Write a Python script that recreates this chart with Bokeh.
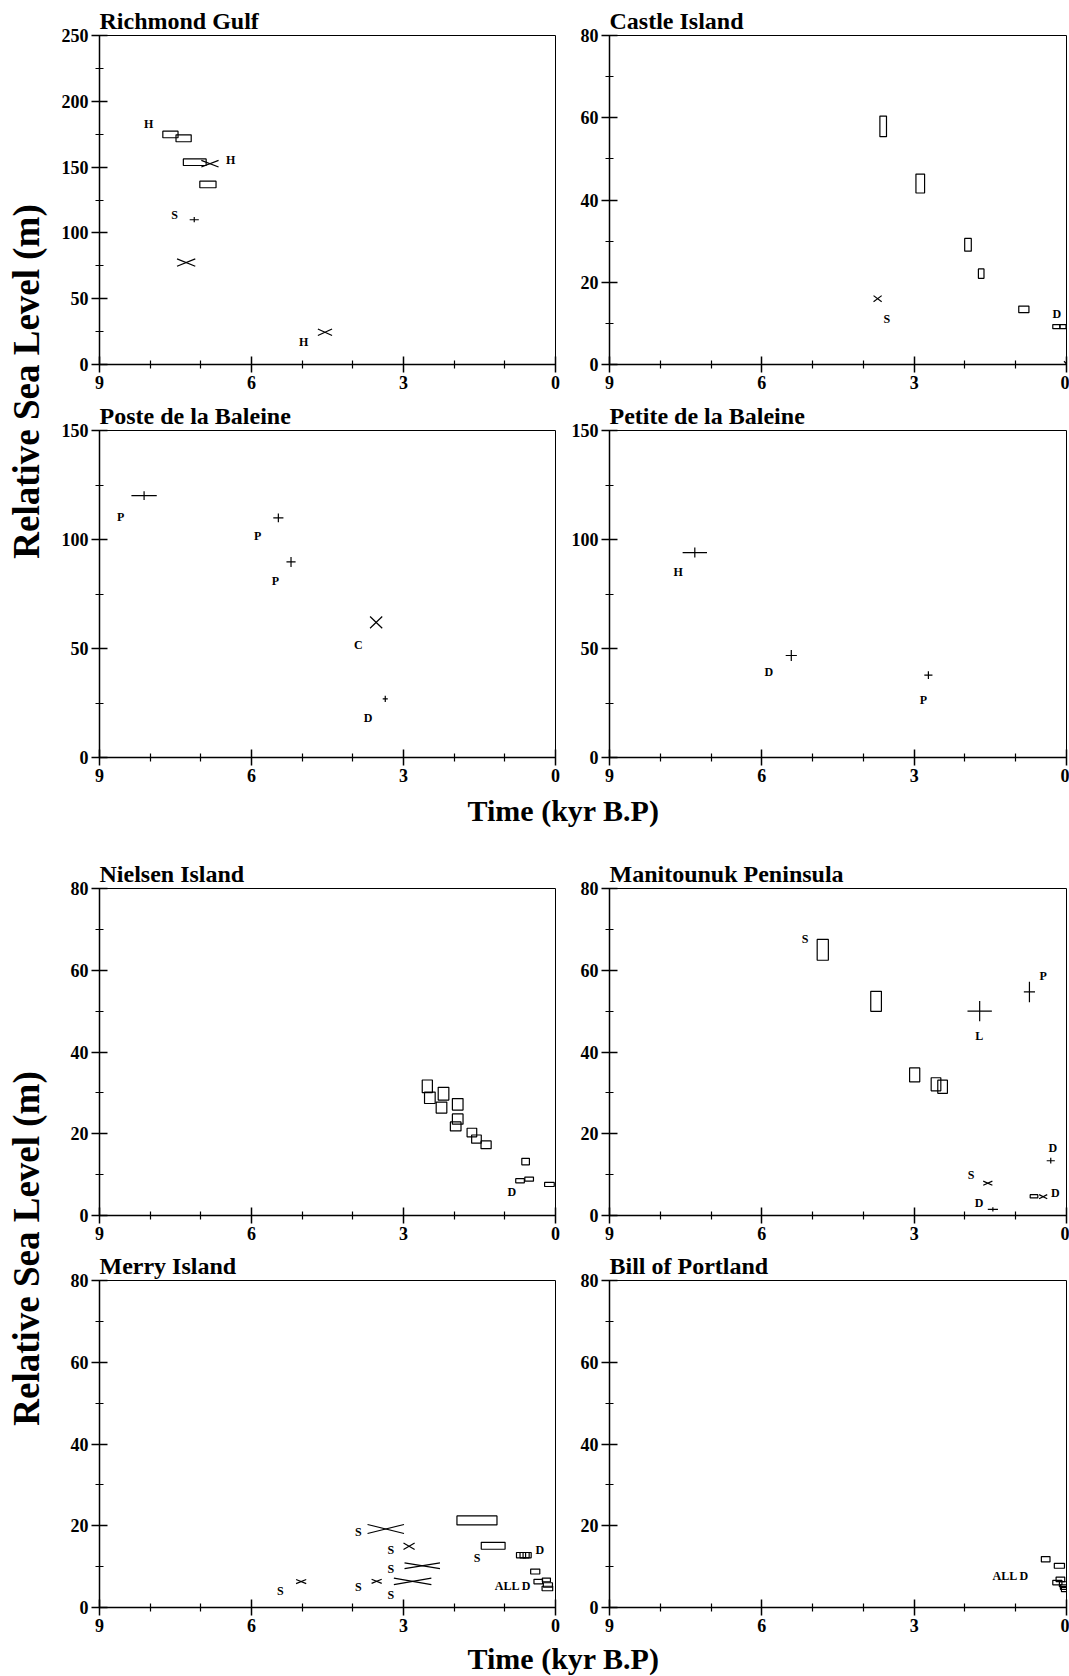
import numpy as np
from bokeh.plotting import figure
from bokeh.models import Range1d, FixedTicker, ColumnDataSource, LabelSet
from bokeh.layouts import row, column
from bokeh.core.properties import value
from bokeh.embed import file_html
from bokeh.resources import INLINE

FONT = "Liberation Serif"

# ---------------- axis ticks ----------------
x_ticks = [9, 6, 3, 0]
x_minor = [8, 7, 5, 4, 2, 1]
y250_ticks = [0, 50, 100, 150, 200, 250]
y250_minor = [25, 75, 125, 175, 225]
y150_ticks = [0, 50, 100, 150]
y150_minor = [25, 75, 125]
y80_ticks = [0, 20, 40, 60, 80]
y80_minor = [10, 30, 50, 70]

# ---------------- Richmond Gulf ----------------
rg_box_x = [7.60, 7.34, 7.12, 6.86]
rg_box_y = [174.8, 171.9, 153.7, 136.8]
rg_box_w = [0.30, 0.30, 0.45, 0.32]
rg_box_h = [5.0, 5.3, 5.0, 5.0]
rg_plus_x = [7.13]
rg_plus_y = [110.0]
rg_plus_dx = [0.09]
rg_plus_dy = [2.0]
rg_cross_x = [6.82, 7.29, 4.55]
rg_cross_y = [152.6, 77.5, 24.5]
rg_cross_dx = [0.17, 0.18, 0.14]
rg_cross_dy = [2.5, 2.8, 2.5]
rg_lab_text = ["H", "H", "S", "H"]
rg_lab_x = [8.03, 6.41, 7.52, 4.97]
rg_lab_y = [182.9, 155.5, 113.5, 17.2]

# ---------------- Castle Island ----------------
ci_box_x = [3.61, 2.88, 1.94, 1.68, 0.84, 0.20, 0.07]
ci_box_y = [57.9, 44.0, 29.1, 22.1, 13.4, 9.2, 9.2]
ci_box_w = [0.13, 0.17, 0.13, 0.11, 0.20, 0.14, 0.12]
ci_box_h = [5.0, 4.6, 3.1, 2.3, 1.6, 1.0, 1.0]
ci_cross_x = [3.72, 0.0]
ci_cross_y = [16.0, 0.2]
ci_cross_dx = [0.08, 0.05]
ci_cross_dy = [0.75, 0.6]
ci_lab_text = ["S", "D"]
ci_lab_x = [3.54, 0.19]
ci_lab_y = [11.1, 12.2]

# ---------------- Poste de la Baleine ----------------
pb_plus_x = [8.12, 5.47, 5.22, 3.36]
pb_plus_y = [120.1, 109.9, 89.7, 26.9]
pb_plus_dx = [0.25, 0.10, 0.09, 0.05]
pb_plus_dy = [2.0, 2.0, 2.3, 1.4]
pb_cross_x = [3.54]
pb_cross_y = [62.0]
pb_cross_dx = [0.12]
pb_cross_dy = [2.7]
pb_lab_text = ["P", "P", "P", "C", "D"]
pb_lab_x = [8.58, 5.88, 5.53, 3.89, 3.70]
pb_lab_y = [110.3, 101.6, 81.0, 51.6, 18.0]

# ---------------- Petite de la Baleine ----------------
pt_plus_x = [7.32, 5.42, 2.72]
pt_plus_y = [94.0, 46.8, 37.8]
pt_plus_dx = [0.24, 0.11, 0.08]
pt_plus_dy = [2.3, 2.5, 1.8]
pt_lab_text = ["H", "D", "P"]
pt_lab_x = [7.65, 5.86, 2.82]
pt_lab_y = [85.0, 39.2, 26.4]

# ---------------- Nielsen Island ----------------
ni_box_x = [2.53, 2.48, 2.21, 2.25, 1.93, 1.93, 1.97, 1.65, 1.56, 1.37, 0.59, 0.70, 0.52, 0.12]
ni_box_y = [31.6, 28.8, 29.8, 26.4, 27.2, 23.6, 21.8, 20.3, 18.7, 17.3, 13.2, 8.5, 8.9, 7.6]
ni_box_w = [0.20, 0.21, 0.21, 0.21, 0.21, 0.21, 0.21, 0.19, 0.19, 0.20, 0.15, 0.17, 0.17, 0.19]
ni_box_h = [3.1, 2.8, 3.1, 2.7, 2.8, 2.5, 2.2, 2.1, 2.0, 1.9, 1.6, 1.0, 1.0, 1.0]
ni_lab_text = ["D", "D"]
ni_lab_x = [0.86, -0.12]
ni_lab_y = [5.7, 7.4]

# ---------------- Manitounuk Peninsula ----------------
mp_box_x = [4.80, 3.75, 2.99, 2.57, 2.44, 0.64]
mp_box_y = [65.0, 52.4, 34.4, 32.1, 31.5, 4.7]
mp_box_w = [0.22, 0.21, 0.20, 0.19, 0.19, 0.15]
mp_box_h = [5.1, 4.9, 3.4, 3.2, 3.2, 0.8]
mp_plus_x = [1.71, 0.73, 0.31, 1.45]
mp_plus_y = [50.0, 54.7, 13.4, 1.5]
mp_plus_dx = [0.24, 0.11, 0.08, 0.10]
mp_plus_dy = [2.45, 2.5, 0.7, 0.5]
mp_cross_x = [1.55, 0.46]
mp_cross_y = [7.9, 4.6]
mp_cross_dx = [0.09, 0.08]
mp_cross_dy = [0.5, 0.5]
mp_lab_text = ["S", "P", "L", "D", "S", "D", "D"]
mp_lab_x = [5.15, 0.46, 1.72, 0.27, 1.88, 0.22, 1.72]
mp_lab_y = [67.7, 58.7, 43.8, 16.6, 10.0, 5.5, 3.0]

# ---------------- Merry Island ----------------
mi_box_x = [1.55, 1.23, 0.68, 0.61, 0.56, 0.40, 0.34, 0.18, 0.15, 0.16]
mi_box_y = [21.3, 15.1, 12.8, 12.8, 12.8, 8.8, 6.35, 6.75, 5.5, 4.65]
mi_box_w = [0.79, 0.47, 0.18, 0.18, 0.16, 0.18, 0.17, 0.16, 0.18, 0.21]
mi_box_h = [2.2, 1.7, 1.3, 1.3, 1.3, 1.2, 1.1, 0.9, 1.1, 1.1]
mi_cross_x = [3.35, 2.89, 2.63, 3.53, 2.82, 5.02]
mi_cross_y = [19.2, 15.0, 10.2, 6.4, 6.4, 6.35]
mi_cross_dx = [0.36, 0.11, 0.35, 0.10, 0.37, 0.10]
mi_cross_dy = [1.1, 0.8, 0.7, 0.5, 0.8, 0.5]
mi_lab_text = ["S", "S", "S", "S", "S", "S", "D", "ALL D", "S"]
mi_lab_x = [3.89, 3.25, 3.25, 3.89, 3.25, 1.55, 0.31, 0.84, 5.43]
mi_lab_y = [18.5, 14.0, 9.5, 5.0, 3.0, 12.0, 14.0, 5.2, 4.1]

# ---------------- Bill of Portland ----------------
bp_box_x = [0.41, 0.14, 0.12, 0.18, 0.05, 0.03, 0.02]
bp_box_y = [11.8, 10.2, 6.9, 6.1, 5.7, 5.0, 4.4]
bp_box_w = [0.17, 0.20, 0.17, 0.18, 0.18, 0.18, 0.16]
bp_box_h = [1.3, 1.2, 1.1, 1.1, 1.2, 1.1, 1.0]
bp_lab_text = ["ALL D"]
bp_lab_x = [1.10]
bp_lab_y = [7.6]

X_LABEL = "Time (kyr B.P)"
Y_LABEL = "Relative Sea Level (m)"

LW = 1.2

# layout sizes (pixels)
YLAB_W = 50
L_BL, L_FW, L_BR = 49, 456, 12
R_BL, R_FW, R_BR = 42, 457, 3


def panel(title, ymax, yt, ym, side, top, fh, bottom,
          boxes=None, pluses=None, crosses=None, labels=None):
    if side == "left":
        bl, fw, br = L_BL, L_FW, L_BR
    else:
        bl, fw, br = R_BL, R_FW, R_BR
    p = figure(frame_width=fw, frame_height=fh,
               x_range=Range1d(9, 0), y_range=Range1d(0, ymax),
               min_border_left=bl, min_border_right=br,
               min_border_top=top, min_border_bottom=bottom,
               output_backend="svg", toolbar_location=None)
    p.xgrid.visible = False
    p.ygrid.visible = False
    p.outline_line_color = "black"
    p.outline_line_width = 1
    p.background_fill_color = "white"
    p.border_fill_color = "white"

    p.title.text = title
    p.title.align = "left"
    p.title.text_font = FONT
    p.title.text_font_style = "bold"
    p.title.text_font_size = "24px"
    p.title.text_color = "black"
    p.title.standoff = 4
    p.title.offset = 0

    p.xaxis.ticker = FixedTicker(ticks=x_ticks, minor_ticks=x_minor)
    p.yaxis.ticker = FixedTicker(ticks=yt, minor_ticks=ym)
    for ax in (p.xaxis, p.yaxis):
        ax.axis_line_width = 1.5
        ax.axis_line_color = "black"
        ax.major_tick_line_width = 1.5
        ax.major_tick_line_color = "black"
        ax.minor_tick_line_width = 1.2
        ax.minor_tick_line_color = "black"
        ax.major_tick_in = 8
        ax.major_tick_out = 8
        ax.minor_tick_in = 4
        ax.minor_tick_out = 4
        ax.major_label_text_font = FONT
        ax.major_label_text_font_style = "bold"
        ax.major_label_text_font_size = "18px"
        ax.major_label_text_color = "black"
    p.xaxis.major_label_standoff = 3
    p.yaxis.major_label_standoff = 3

    if boxes is not None:
        bx, by, bw, bh = boxes
        p.rect(x=bx, y=by, width=bw, height=bh, fill_color=None,
               line_color="black", line_width=LW)
    if pluses is not None:
        px, py, pdx, pdy = (np.array(a, dtype=float) for a in pluses)
        p.segment(x0=px - pdx, y0=py, x1=px + pdx, y1=py,
                  line_color="black", line_width=LW)
        p.segment(x0=px, y0=py - pdy, x1=px, y1=py + pdy,
                  line_color="black", line_width=LW)
    if crosses is not None:
        cx, cy, cdx, cdy = (np.array(a, dtype=float) for a in crosses)
        p.segment(x0=cx - cdx, y0=cy - cdy, x1=cx + cdx, y1=cy + cdy,
                  line_color="black", line_width=LW)
        p.segment(x0=cx - cdx, y0=cy + cdy, x1=cx + cdx, y1=cy - cdy,
                  line_color="black", line_width=LW)
    if labels is not None:
        lt, lx, ly = labels
        src = ColumnDataSource(dict(x=lx, y=ly, text=lt))
        ls = LabelSet(x="x", y="y", text="text", source=src,
                      text_font=value(FONT), text_font_style="bold",
                      text_font_size="12px", text_color="black",
                      text_align="center", text_baseline="middle")
        p.add_layout(ls)
    return p


def text_fig(w, h, texts, xs, ys, size, angle=0.0):
    p = figure(frame_width=w, frame_height=h,
               x_range=Range1d(0, w), y_range=Range1d(h, 0),
               x_axis_type=None, y_axis_type=None,
               min_border=0, output_backend="svg", toolbar_location=None)
    p.xgrid.visible = False
    p.ygrid.visible = False
    p.outline_line_color = None
    src = ColumnDataSource(dict(x=xs, y=ys, text=texts))
    p.text(x="x", y="y", text="text", source=src, angle=angle,
           text_font=value(FONT), text_font_style="bold",
           text_font_size=size, text_color="black",
           text_align="center", text_baseline="middle")
    return p


f1 = panel("Richmond Gulf", 250, y250_ticks, y250_minor, "left", 35, 329, 34,
           boxes=(rg_box_x, rg_box_y, rg_box_w, rg_box_h),
           pluses=(rg_plus_x, rg_plus_y, rg_plus_dx, rg_plus_dy),
           crosses=(rg_cross_x, rg_cross_y, rg_cross_dx, rg_cross_dy),
           labels=(rg_lab_text, rg_lab_x, rg_lab_y))
f2 = panel("Castle Island", 80, y80_ticks, y80_minor, "right", 35, 329, 34,
           boxes=(ci_box_x, ci_box_y, ci_box_w, ci_box_h),
           crosses=(ci_cross_x, ci_cross_y, ci_cross_dx, ci_cross_dy),
           labels=(ci_lab_text, ci_lab_x, ci_lab_y))
f3 = panel("Poste de la Baleine", 150, y150_ticks, y150_minor, "left", 31, 327, 34,
           pluses=(pb_plus_x, pb_plus_y, pb_plus_dx, pb_plus_dy),
           crosses=(pb_cross_x, pb_cross_y, pb_cross_dx, pb_cross_dy),
           labels=(pb_lab_text, pb_lab_x, pb_lab_y))
f4 = panel("Petite de la Baleine", 150, y150_ticks, y150_minor, "right", 31, 327, 34,
           pluses=(pt_plus_x, pt_plus_y, pt_plus_dx, pt_plus_dy),
           labels=(pt_lab_text, pt_lab_x, pt_lab_y))
f5 = panel("Nielsen Island", 80, y80_ticks, y80_minor, "left", 52, 327, 33,
           boxes=(ni_box_x, ni_box_y, ni_box_w, ni_box_h),
           labels=(ni_lab_text, ni_lab_x, ni_lab_y))
f6 = panel("Manitounuk Peninsula", 80, y80_ticks, y80_minor, "right", 52, 327, 33,
           boxes=(mp_box_x, mp_box_y, mp_box_w, mp_box_h),
           pluses=(mp_plus_x, mp_plus_y, mp_plus_dx, mp_plus_dy),
           crosses=(mp_cross_x, mp_cross_y, mp_cross_dx, mp_cross_dy),
           labels=(mp_lab_text, mp_lab_x, mp_lab_y))
f7 = panel("Merry Island", 80, y80_ticks, y80_minor, "left", 31, 327, 34,
           boxes=(mi_box_x, mi_box_y, mi_box_w, mi_box_h),
           crosses=(mi_cross_x, mi_cross_y, mi_cross_dx, mi_cross_dy),
           labels=(mi_lab_text, mi_lab_x, mi_lab_y))
f8 = panel("Bill of Portland", 80, y80_ticks, y80_minor, "right", 31, 327, 34,
           boxes=(bp_box_x, bp_box_y, bp_box_w, bp_box_h),
           labels=(bp_lab_text, bp_lab_x, bp_lab_y))

GRID_W = (L_BL + L_FW + L_BR) + (R_BL + R_FW + R_BR)
XLAB_CX = 563 - YLAB_W
xlab1 = text_fig(GRID_W, 45, [X_LABEL], [XLAB_CX], [19], "30px")
xlab2 = text_fig(GRID_W, 35, [X_LABEL], [XLAB_CX], [17], "30px")

TOTAL_H = (35 + 329 + 34) + (31 + 327 + 34) + 45 + (52 + 327 + 33) + (31 + 327 + 34) + 35
ylab = text_fig(YLAB_W, TOTAL_H, [Y_LABEL, Y_LABEL], [26, 26], [381, 1248], "37px",
                angle=np.pi / 2)

grid = column(row(f1, f2), row(f3, f4), xlab1, row(f5, f6), row(f7, f8), xlab2)
layout = row(ylab, grid)

open("out.html", "w").write(file_html(layout, INLINE))
